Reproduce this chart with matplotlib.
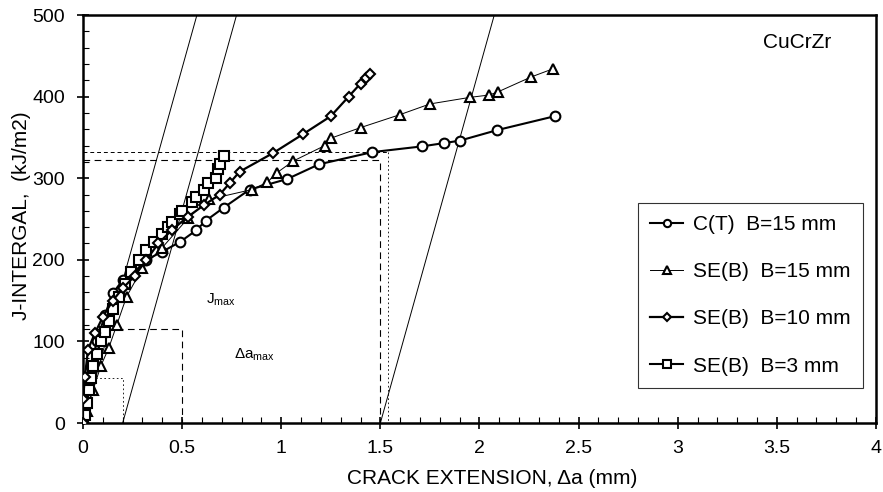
import numpy as np
import matplotlib
matplotlib.use("Agg")
import matplotlib.pyplot as plt
from matplotlib.ticker import MultipleLocator

plt.rcParams['font.family'] = ['Liberation Sans', 'DejaVu Sans']
plt.rcParams['mathtext.fontset'] = 'custom'
plt.rcParams['mathtext.rm'] = 'Liberation Sans'

# C(T) B=15 mm
ct15_x = [0.0, 0.01, 0.02, 0.04, 0.07, 0.11, 0.15, 0.2, 0.25, 0.32, 0.4, 0.49, 0.57, 0.62, 0.71,
          0.84, 1.03, 1.19, 1.46, 1.71, 1.82, 1.9, 2.09, 2.38]
ct15_y = [0, 20, 40, 70, 100, 132, 159, 175, 183, 200, 210, 222, 236, 248, 264,
          286, 299, 317, 332, 339, 343, 346, 359, 376]

# SE(B) B=15 mm
seb15_x = [0.0, 0.02, 0.05, 0.09, 0.13, 0.17, 0.22, 0.3, 0.4, 0.53, 0.635, 0.85, 0.93, 0.98,
           1.06, 1.22, 1.25, 1.40, 1.60, 1.75, 1.95, 2.05, 2.095, 2.26, 2.37]
seb15_y = [0, 15, 40, 70, 92, 120, 155, 190, 215, 251, 274, 286, 295, 307,
           321, 340, 349, 362, 378, 391, 399, 402, 406, 424, 434]

# SE(B) B=10 mm
seb10_x = [0.0, 0.0, 0.01, 0.025, 0.06, 0.1, 0.15, 0.2, 0.26, 0.32, 0.38, 0.45, 0.53, 0.61,
           0.69, 0.74, 0.79, 0.96, 1.11, 1.25, 1.34, 1.40, 1.43, 1.45]
seb10_y = [0, 30, 57, 90, 110, 130, 150, 165, 180, 200, 220, 237, 253, 267,
           280, 294, 308, 331, 354, 376, 400, 416, 423, 428]

# SE(B) B=3 mm
seb3_x = [0.0, 0.01, 0.02, 0.03, 0.04, 0.05, 0.07, 0.09, 0.11, 0.13, 0.15, 0.18, 0.21, 0.24,
          0.28, 0.32, 0.36, 0.40, 0.43, 0.45, 0.49, 0.50, 0.55, 0.57, 0.61, 0.63, 0.67,
          0.68, 0.69, 0.71]
seb3_y = [0, 10, 25, 40, 55, 70, 85, 100, 112, 125, 140, 155, 170, 185,
          200, 212, 222, 232, 240, 246, 256, 260, 271, 277, 286, 294, 300,
          311, 318, 327]

# blunting / exclusion lines (offset in mm), slope in kJ/m2 per mm
blunt_offsets = [0.0, 0.2, 1.5]
blunt_slope = 870

fig = plt.figure(figsize=(8.83, 4.92), dpi=100)
ax = fig.add_axes([0.094, 0.1402, 0.898, 0.8293])

for off in blunt_offsets:
    xs = np.array([off, off + 560 / blunt_slope])
    ax.plot(xs, (xs - off) * blunt_slope, color='black', lw=0.7)

# dashed construction lines
ax.plot([0, 1.5, 1.5], [322, 322, 0], color='black', lw=0.8, ls=(0, (6, 4)))
ax.plot([0, 1.54], [332, 332], color='black', lw=0.7, ls=(0, (4, 3)))
ax.plot([1.54, 1.54], [332, 0], color='black', lw=0.6, ls=(0, (2, 3)))
ax.plot([0, 0.5, 0.5], [115, 115, 0], color='black', lw=0.8, ls=(0, (6, 4)))
ax.plot([0, 0.2, 0.2], [55, 55, 0], color='black', lw=0.6, ls=(0, (2, 3)))

ax.plot(ct15_x, ct15_y, color='black', lw=1.5, marker='o', ms=7, mfc='white',
        mew=1.5, label='C(T)  B=15 mm', zorder=3)
ax.plot(seb15_x, seb15_y, color='black', lw=0.7, marker='^', ms=7, mfc='white',
        mew=1.5, label='SE(B)  B=15 mm', zorder=3)
ax.plot(seb10_x, seb10_y, color='black', lw=1.6, marker='D', ms=5, mfc='white',
        mew=1.5, label='SE(B)  B=10 mm', zorder=4)
ax.plot(seb3_x, seb3_y, color='black', lw=1.5, marker='s', ms=7.5, mfc='white',
        mew=1.5, label='SE(B)  B=3 mm', zorder=3)

ax.text(0.62, 147, r'J$_{\mathrm{max}}$', fontsize=11)
ax.text(0.76, 79, '\u0394a$_{\\mathrm{max}}$', fontsize=11)
ax.text(3.6, 460, 'CuCrZr', fontsize=15, ha='center')

ax.set_xlim(0, 4)
ax.set_ylim(0, 500)
ax.xaxis.set_major_locator(MultipleLocator(0.5))
ax.xaxis.set_minor_locator(MultipleLocator(0.1))
ax.yaxis.set_major_locator(MultipleLocator(100))
ax.yaxis.set_minor_locator(MultipleLocator(20))
ax.set_xticks([0, 0.5, 1, 1.5, 2, 2.5, 3, 3.5, 4])
ax.set_xticklabels(['0', '0.5', '1', '1.5', '2', '2.5', '3', '3.5', '4'])
ax.tick_params(which='major', direction='inout', length=8, width=1.2, labelsize=14)
ax.tick_params(axis='x', which='major', pad=8)
ax.tick_params(axis='y', which='major', pad=9)
ax.tick_params(which='minor', direction='in', length=4, width=0.8)
for sp in ax.spines.values():
    sp.set_linewidth(1.8)

ax.set_xlabel('CRACK EXTENSION, \u0394a (mm)', fontsize=15)
ax.set_ylabel('J-INTERGAL,  (kJ/m2)', fontsize=15)
ax.xaxis.set_label_coords(0.516, -0.113)
ax.yaxis.set_label_coords(-0.065, 0.507)

leg = ax.legend(loc='lower right', bbox_to_anchor=(0.9836, 0.0858), borderaxespad=0,
                fontsize=15, frameon=True, fancybox=False, edgecolor='black',
                labelspacing=1.35, handlelength=1.6, handletextpad=0.45, borderpad=0.6,
                markerscale=0.75)
leg.get_frame().set_linewidth(0.8)

fig.savefig('out.png', dpi=100)
